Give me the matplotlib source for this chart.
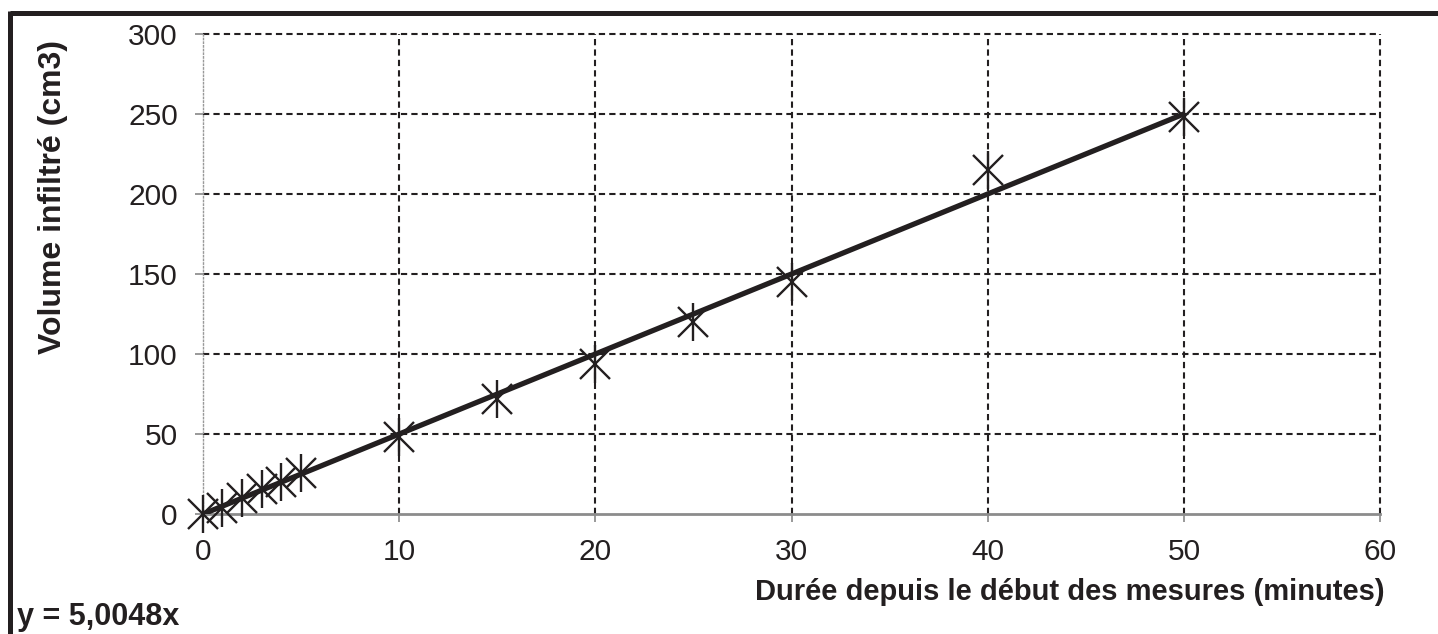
import matplotlib
matplotlib.use("Agg")
import matplotlib.pyplot as plt
from matplotlib.lines import Line2D

plt.rcParams["font.family"] = ["Liberation Sans", "DejaVu Sans"]

# mesures
duree = [0, 1, 2, 3, 4, 5, 10, 15, 20, 25, 30, 40, 50]
volume = [0, 4, 10, 16, 20, 26, 48, 72, 94, 120, 145, 215, 248]
pente = 5.0048
x_ticks = [0, 10, 20, 30, 40, 50, 60]
y_ticks = [0, 50, 100, 150, 200, 250, 300]

INK = "#231f20"

fig = plt.figure(figsize=(14.38, 6.34), dpi=100)
ax = fig.add_axes([0.141, 0.189, 0.819, 0.757])

# grille pointillée
for xv in x_ticks[1:]:
    ax.axvline(xv, color=INK, lw=1.5, ls=(0, (3, 2)), zorder=1, clip_on=False)
for yv in y_ticks[1:]:
    ax.axhline(yv, color=INK, lw=1.5, ls=(0, (3, 2)), zorder=1, clip_on=False)

# courbe de tendance
xs = [0, max(duree)]
ax.plot(xs, [pente * v for v in xs], color=INK, lw=3.8, zorder=3, solid_capstyle="butt")

# marqueurs étoile (x + barre)
ax.plot(duree, volume, ls="none", marker="x", ms=21, mew=1.7, color=INK, zorder=4, clip_on=False)
ax.plot(duree, volume, ls="none", marker="|", ms=28, mew=1.7, color=INK, zorder=4, clip_on=False)

ax.set_xlim(0, 60)
ax.set_ylim(0, 300)
ax.set_xticks(x_ticks)
ax.set_yticks(y_ticks)
ax.tick_params(labelsize=21.5, colors="#888888", labelcolor=INK, length=6, width=1.2)
ax.tick_params(axis="x", pad=11)
ax.tick_params(axis="y", pad=12)

for s in ["top", "right"]:
    ax.spines[s].set_visible(False)
ax.spines["bottom"].set_color("#8c8c8c")
ax.spines["bottom"].set_linewidth(2)
ax.spines["left"].set_color("#999999")
ax.spines["left"].set_linewidth(1)
ax.spines["left"].set_linestyle(":")

fig.text(0.963, 0.066, "Durée depuis le début des mesures (minutes)",
         ha="right", va="center", fontsize=21, fontweight="bold", color=INK)
fig.text(0.037, 0.937, "Volume infiltré (cm3)", rotation=90, ha="center", va="top",
         fontsize=23, fontweight="bold", color=INK)
fig.text(0.012, 0.003, "y = 5,0048x", ha="left", va="bottom",
         fontsize=22, fontweight="bold", color=INK)

# cadre épais haut / gauche
fig.add_artist(Line2D([0.0068, 1.0], [0.9795, 0.9795], transform=fig.transFigure,
                      color=INK, lw=3.6, solid_capstyle="butt"))
fig.add_artist(Line2D([0.0068, 0.0068], [0.0, 0.9825], transform=fig.transFigure,
                      color=INK, lw=3.6, solid_capstyle="butt"))

fig.savefig("out.png", dpi=100)
